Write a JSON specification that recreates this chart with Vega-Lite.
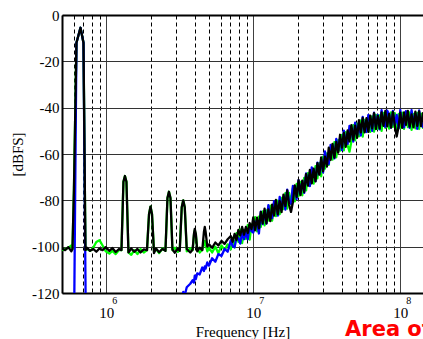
{
  "$schema": "https://vega.github.io/schema/vega-lite/v6.json",
  "autosize": {"type": "none"},
  "width": 361,
  "height": 278,
  "padding": {"left": 62, "top": 15, "right": 0, "bottom": 46},
  "background": "#ffffff",
  "config": {
    "view": {"stroke": null},
    "font": "Times New Roman, serif",
    "axis": {"labelFont": "Times New Roman, serif", "titleFont": "Times New Roman, serif"}
  },
  "datasets": {
    "exp": [{"f": 1000000, "e": "6"}, {"f": 10000000, "e": "7"}, {"f": 100000000, "e": "8"}],
    "note": [{"f": 42100000, "v": -138.6, "t": "Area of interest"}]
  },
  "layer": [
    {
      "data": {"values": [
    {"f":500000,"g":-101.5,"b":-140,"k":-100.8},
    {"f":525000,"g":-101.0,"b":-140,"k":-101.5},
    {"f":552000,"g":-100.5,"b":-140,"k":-100.2},
    {"f":579000,"g":-99.5,"b":-140,"k":-102.0},
    {"f":589000,"g":-101.0,"b":-140,"k":-101.0},
    {"f":603000,"g":-75,"b":-140,"k":-75},
    {"f":627000,"g":-12,"b":-12,"k":-12},
    {"f":668000,"g":-5.5,"b":-5.5,"k":-5.5},
    {"f":700000,"g":-12,"b":-12,"k":-12},
    {"f":722000,"g":-101.5,"b":-114,"k":-101.5},
    {"f":728000,"g":-101.2,"b":-140,"k":-101.2},
    {"f":739000,"g":-101.0,"b":-140,"k":-100.5},
    {"f":776000,"g":-101.8,"b":-140,"k":-101.8},
    {"f":815000,"g":-100.5,"b":-140,"k":-101.0},
    {"f":856000,"g":-98.0,"b":-140,"k":-102.2},
    {"f":899000,"g":-97.2,"b":-140,"k":-100.8},
    {"f":944000,"g":-99.5,"b":-140,"k":-101.5},
    {"f":991000,"g":-102.0,"b":-140,"k":-100.2},
    {"f":1050000,"g":-103.0,"b":-140,"k":-101.8},
    {"f":1100000,"g":-101.8,"b":-140,"k":-100.6},
    {"f":1160000,"g":-103.2,"b":-140,"k":-102.3},
    {"f":1220000,"g":-101.5,"b":-140,"k":-101.0},
    {"f":1269000,"g":-101.5,"b":-140,"k":-101.5},
    {"f":1309000,"g":-72,"b":-140,"k":-72},
    {"f":1340000,"g":-69.5,"b":-140,"k":-69.5},
    {"f":1372000,"g":-72,"b":-140,"k":-72},
    {"f":1416000,"g":-102.5,"b":-140,"k":-102.5},
    {"f":1480000,"g":-103.5,"b":-140,"k":-100.8},
    {"f":1550000,"g":-101.5,"b":-140,"k":-102.2},
    {"f":1630000,"g":-103.2,"b":-140,"k":-101.0},
    {"f":1710000,"g":-101.0,"b":-140,"k":-102.5},
    {"f":1800000,"g":-102.5,"b":-140,"k":-101.2},
    {"f":1893000,"g":-101.5,"b":-140,"k":-101.5},
    {"f":1954000,"g":-86,"b":-140,"k":-86},
    {"f":2000000,"g":-82.7,"b":-140,"k":-82.7},
    {"f":2048000,"g":-86,"b":-140,"k":-86},
    {"f":2113000,"g":-102.0,"b":-140,"k":-102.8},
    {"f":2180000,"g":-101.0,"b":-140,"k":-100.8},
    {"f":2290000,"g":-102.8,"b":-140,"k":-102.4},
    {"f":2410000,"g":-100.8,"b":-140,"k":-101.0},
    {"f":2528000,"g":-101.8,"b":-140,"k":-101.8},
    {"f":2608000,"g":-79,"b":-140,"k":-79},
    {"f":2670000,"g":-76.3,"b":-140,"k":-76.3},
    {"f":2734000,"g":-79,"b":-140,"k":-79},
    {"f":2820000,"g":-101.5,"b":-140,"k":-101.2},
    {"f":2930000,"g":-100.5,"b":-140,"k":-102.6},
    {"f":3070000,"g":-102.2,"b":-140,"k":-100.8},
    {"f":3162000,"g":-101.0,"b":-128,"k":-101.8},
    {"f":3262000,"g":-83,"b":-123,"k":-83},
    {"f":3340000,"g":-80,"b":-119.5,"k":-80},
    {"f":3420000,"g":-83,"b":-121,"k":-83},
    {"f":3528000,"g":-102.0,"b":-117.5,"k":-101.0},
    {"f":3730000,"g":-100.8,"b":-116,"k":-102.5},
    {"f":3870000,"g":-101.5,"b":-114.5,"k":-101.2},
    {"f":3950000,"g":-95,"b":-115.5,"k":-94.5},
    {"f":4000000,"g":-93,"b":-112.5,"k":-92.3},
    {"f":4070000,"g":-95,"b":-114,"k":-94.5},
    {"f":4160000,"g":-101.0,"b":-111.5,"k":-102.0},
    {"f":4320000,"g":-102.5,"b":-112,"k":-100.4},
    {"f":4500000,"g":-101.3,"b":-109,"k":-101.5},
    {"f":4620000,"g":-99,"b":-110.5,"k":-93.5},
    {"f":4680000,"g":-97.5,"b":-108.5,"k":-91.5},
    {"f":4740000,"g":-99,"b":-109.5,"k":-93.5},
    {"f":4870000,"g":-102.0,"b":-106.8,"k":-100.0},
    {"f":5000000,"g":-100.5,"b":-108.2,"k":-99.0},
    {"f":5250000,"g":-102.5,"b":-105,"k":-100.5},
    {"f":5520000,"g":-100.0,"b":-106.5,"k":-98.2},
    {"f":5790000,"g":-102.8,"b":-103.2,"k":-99.5},
    {"f":6080000,"g":-99.5,"b":-104,"k":-97.5},
    {"f":6380000,"g":-101.5,"b":-101,"k":-98.8},
    {"f":6700000,"g":-99.0,"b":-102.2,"k":-96.8},
    {"f":7035000,"g":-101.1,"b":-97.3,"k":-95.4},
    {"f":7246000,"g":-96.2,"b":-99.8,"k":-97.9},
    {"f":7463000,"g":-100.3,"b":-100.3,"k":-94.5},
    {"f":7687000,"g":-94.2,"b":-96.0,"k":-97.1},
    {"f":7918000,"g":-97.9,"b":-96.3,"k":-92.8},
    {"f":8155000,"g":-92.6,"b":-98.7,"k":-95.1},
    {"f":8400000,"g":-98.5,"b":-93.9,"k":-91.5},
    {"f":8652000,"g":-92.8,"b":-96.8,"k":-94.8},
    {"f":8912000,"g":-96.6,"b":-93.8,"k":-91.5},
    {"f":9179000,"g":-90.6,"b":-96.8,"k":-94.1},
    {"f":9454000,"g":-96.9,"b":-90.8,"k":-89.8},
    {"f":9738000,"g":-90.4,"b":-93.4,"k":-92.4},
    {"f":10000000,"g":-93.4,"b":-93.9,"k":-87.4},
    {"f":10300000,"g":-87.3,"b":-89.2,"k":-92.9},
    {"f":10610000,"g":-93.4,"b":-89.8,"k":-87.5},
    {"f":10930000,"g":-87.0,"b":-94.3,"k":-92.1},
    {"f":11260000,"g":-91.5,"b":-84.9,"k":-85.0},
    {"f":11590000,"g":-84.8,"b":-90.3,"k":-89.9},
    {"f":11940000,"g":-90.8,"b":-84.7,"k":-83.6},
    {"f":12300000,"g":-84.3,"b":-90.0,"k":-89.9},
    {"f":12670000,"g":-88.7,"b":-82.1,"k":-83.9},
    {"f":13050000,"g":-82.3,"b":-87.3,"k":-89.0},
    {"f":13440000,"g":-88.8,"b":-87.7,"k":-81.9},
    {"f":13840000,"g":-82.2,"b":-80.4,"k":-86.6},
    {"f":14260000,"g":-86.8,"b":-81.8,"k":-79.8},
    {"f":14690000,"g":-80.1,"b":-86.6,"k":-85.9},
    {"f":15130000,"g":-86.0,"b":-78.5,"k":-80.3},
    {"f":15580000,"g":-79.0,"b":-83.8,"k":-85.1},
    {"f":16050000,"g":-83.8,"b":-78.7,"k":-77.5},
    {"f":16530000,"g":-76.9,"b":-84.0,"k":-82.5},
    {"f":17020000,"g":-83.6,"b":-75.4,"k":-75.7},
    {"f":17540000,"g":-76.8,"b":-80.5,"k":-82.0},
    {"f":18060000,"g":-81.6,"b":-81.5,"k":-85.0},
    {"f":18600000,"g":-74.7,"b":-73.8,"k":-80.8},
    {"f":19160000,"g":-80.4,"b":-74.4,"k":-73.6},
    {"f":19740000,"g":-72.9,"b":-79.4,"k":-78.5},
    {"f":20330000,"g":-78.2,"b":-71.3,"k":-71.3},
    {"f":20940000,"g":-72.0,"b":-77.1,"k":-77.7},
    {"f":21570000,"g":-77.8,"b":-71.7,"k":-71.5},
    {"f":22210000,"g":-70.3,"b":-76.8,"k":-76.4},
    {"f":22880000,"g":-75.7,"b":-68.4,"k":-68.7},
    {"f":23570000,"g":-68.3,"b":-73.3,"k":-73.6},
    {"f":24270000,"g":-73.7,"b":-73.8,"k":-66.9},
    {"f":25000000,"g":-67.6,"b":-65.8,"k":-72.7},
    {"f":25750000,"g":-72.8,"b":-67.3,"k":-66.3},
    {"f":26520000,"g":-65.2,"b":-71.7,"k":-71.8},
    {"f":27320000,"g":-70.5,"b":-63.7,"k":-64.0},
    {"f":28140000,"g":-63.9,"b":-68.8,"k":-68.9},
    {"f":28980000,"g":-69.6,"b":-62.6,"k":-61.5},
    {"f":29850000,"g":-61.1,"b":-67.9,"k":-67.4},
    {"f":30750000,"g":-66.3,"b":-58.9,"k":-61.1},
    {"f":31670000,"g":-59.7,"b":-63.5,"k":-65.4},
    {"f":32620000,"g":-64.7,"b":-64.3,"k":-57.3},
    {"f":33600000,"g":-57.0,"b":-56.1,"k":-62.5},
    {"f":34610000,"g":-62.4,"b":-56.9,"k":-55.6},
    {"f":35650000,"g":-54.9,"b":-61.9,"k":-61.6},
    {"f":36710000,"g":-61.4,"b":-53.5,"k":-54.8},
    {"f":37820000,"g":-54.0,"b":-58.6,"k":-59.4},
    {"f":38950000,"g":-58.5,"b":-53.2,"k":-51.7},
    {"f":40120000,"g":-51.8,"b":-58.3,"k":-57.2},
    {"f":41320000,"g":-58.4,"b":-49.9,"k":-50.9},
    {"f":42560000,"g":-50.6,"b":-55.1,"k":-56.9},
    {"f":43840000,"g":-56.2,"b":-55.6,"k":-49.8},
    {"f":45150000,"g":-59.0,"b":-47.9,"k":-54.6},
    {"f":46510000,"g":-54.5,"b":-49.4,"k":-47.5},
    {"f":47900000,"g":-47.5,"b":-54.6,"k":-53.8},
    {"f":49340000,"g":-54.1,"b":-46.5,"k":-47.8},
    {"f":50820000,"g":-46.9,"b":-52.1,"k":-53.0},
    {"f":52350000,"g":-52.4,"b":-46.6,"k":-45.4},
    {"f":53920000,"g":-45.5,"b":-52.0,"k":-50.7},
    {"f":55530000,"g":-52.5,"b":-44.0,"k":-44.4},
    {"f":57200000,"g":-45.3,"b":-49.6,"k":-50.7},
    {"f":58920000,"g":-50.3,"b":-50.5,"k":-44.5},
    {"f":60680000,"g":-43.7,"b":-43.1,"k":-50.4},
    {"f":62500000,"g":-50.4,"b":-44.7,"k":-43.4},
    {"f":64380000,"g":-43.8,"b":-50.0,"k":-48.9},
    {"f":66310000,"g":-50.3,"b":-42.2,"k":-42.4},
    {"f":68300000,"g":-43.1,"b":-48.2,"k":-49.2},
    {"f":70350000,"g":-49.1,"b":-43.1,"k":-43.6},
    {"f":72460000,"g":-43.3,"b":-49.4,"k":-48.9},
    {"f":74630000,"g":-50.0,"b":-41.1,"k":-42.0},
    {"f":76870000,"g":-42.3,"b":-47.0,"k":-47.8},
    {"f":79180000,"g":-48.7,"b":-48.3,"k":-41.4},
    {"f":81550000,"g":-42.7,"b":-41.3,"k":-48.1},
    {"f":84000000,"g":-49.0,"b":-42.9,"k":-42.7},
    {"f":86520000,"g":-42.0,"b":-48.6,"k":-48.6},
    {"f":89120000,"g":-48.3,"b":-41.4,"k":-41.8},
    {"f":91790000,"g":-42.4,"b":-47.6,"k":-47.5},
    {"f":94540000,"g":-49.8,"b":-43.1,"k":-52.5},
    {"f":97380000,"g":-42.8,"b":-48.9,"k":-48.3},
    {"f":100000000,"g":-48.8,"b":-41.0,"k":-42.2},
    {"f":103000000,"g":-42.2,"b":-47.2,"k":-48.7},
    {"f":106100000,"g":-49.1,"b":-48.5,"k":-42.0},
    {"f":109300000,"g":-42.5,"b":-41.5,"k":-47.4},
    {"f":112600000,"g":-48.4,"b":-43.4,"k":-41.4},
    {"f":115900000,"g":-42.0,"b":-48.7,"k":-48.2},
    {"f":119400000,"g":-49.6,"b":-41.1,"k":-42.9},
    {"f":123000000,"g":-42.7,"b":-47.0,"k":-48.5},
    {"f":126700000,"g":-48.9,"b":-42.6,"k":-41.7},
    {"f":130500000,"g":-42.3,"b":-49.1,"k":-47.8},
    {"f":134400000,"g":-49.2,"b":-41.2,"k":-41.6},
    {"f":138400000,"g":-42.6,"b":-46.7,"k":-48.0},
    {"f":142600000,"g":-48.7,"b":-48.3,"k":-42.4},
    {"f":146900000,"g":-42.1,"b":-41.4,"k":-48.4}
      ]},
      "transform": [{"fold": ["g", "b", "k"], "as": ["s", "dB"]}],
      "mark": {"type": "line", "clip": true, "strokeWidth": 2.3, "strokeJoin": "round"},
      "encoding": {
        "x": {
          "field": "f", "type": "quantitative",
          "scale": {"type": "log", "domain": [500000, 142800000], "nice": false},
          "axis": {
            "values": [500000,600000,700000,800000,900000,1000000,2000000,3000000,4000000,5000000,6000000,7000000,8000000,9000000,10000000,20000000,30000000,40000000,50000000,60000000,70000000,80000000,90000000,100000000],
            "labelExpr": "datum.value == 1000000 || datum.value == 10000000 || datum.value == 100000000 ? '10' : ''",
            "labelFont": "Times New Roman, serif", "labelFontSize": 15, "labelColor": "#000000",
            "labelPadding": 12, "labelOverlap": false, "labelFlush": false, "labelDx": -2,
            "ticks": false, "domainColor": "#000000", "domainWidth": 2,
            "grid": true, "gridColor": "#000000", "gridWidth": 1, "gridOpacity": 1,
            "gridDash": {"condition": {"test": "datum.value == 1000000 || datum.value == 10000000 || datum.value == 100000000", "value": [1, 0]}, "value": [4, 3]},
            "title": "Frequency [Hz]", "titleFont": "Times New Roman, serif", "titleFontSize": 15,
            "titleFontWeight": "normal", "titleColor": "#000000", "titlePadding": 4
          }
        },
        "y": {
          "field": "dB", "type": "quantitative",
          "scale": {"domain": [-120, 0], "nice": false, "zero": false},
          "axis": {
            "values": [-120, -100, -80, -60, -40, -20, 0],
            "labelExpr": "'' + datum.value",
            "labelFont": "Times New Roman, serif", "labelFontSize": 15, "labelColor": "#000000",
            "labelPadding": 3, "labelOverlap": false,
            "ticks": false, "domainColor": "#000000", "domainWidth": 2,
            "grid": true,
            "gridColor": {"condition": {"test": "datum.value == 0", "value": "#000000"}, "value": "#333333"},
            "gridWidth": {"condition": {"test": "datum.value == 0", "value": 2}, "value": 1},
            "gridOpacity": 1,
            "title": "[dBFS]", "titleFont": "Times New Roman, serif", "titleFontSize": 15,
            "titleFontWeight": "normal", "titleColor": "#000000", "titlePadding": 6
          }
        },
        "color": {
          "field": "s", "type": "nominal",
          "scale": {"domain": ["g", "b", "k"], "range": ["#00ff00", "#0000ff", "#000000"]},
          "legend": null
        }
      }
    },
    {
      "data": {"name": "exp"},
      "mark": {"type": "text", "font": "Times New Roman, serif", "fontSize": 10, "fill": "#000000", "align": "left", "baseline": "alphabetic", "dx": 6, "dy": 11, "clip": false},
      "encoding": {
        "x": {"field": "f", "type": "quantitative"},
        "y": {"datum": -120},
        "text": {"field": "e", "type": "nominal"}
      }
    },
    {
      "data": {"name": "note"},
      "mark": {"type": "text", "font": "DejaVu Sans", "fontWeight": "bold", "fontSize": 21, "fill": "#ff0000", "align": "left", "baseline": "alphabetic", "clip": false},
      "encoding": {
        "x": {"field": "f", "type": "quantitative"},
        "y": {"field": "v", "type": "quantitative"},
        "text": {"field": "t", "type": "nominal"}
      }
    }
  ]
}
